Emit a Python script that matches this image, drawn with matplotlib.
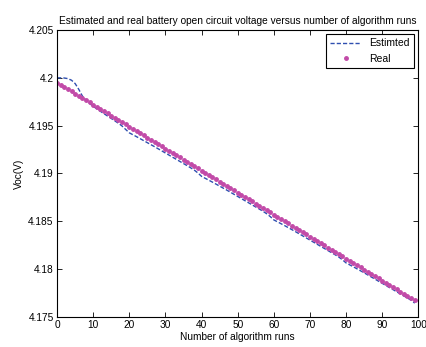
import numpy as np
import matplotlib.pyplot as plt

plt.rcParams['font.family'] = ['Liberation Sans', 'DejaVu Sans']
plt.rcParams['font.size'] = 7.3

runs = list(range(100))

real_voc = [
    4.19950, 4.19927, 4.19904, 4.19881, 4.19858, 4.19835, 4.19812, 4.19789, 4.19766, 4.19743,
    4.19720, 4.19697, 4.19674, 4.19651, 4.19628, 4.19605, 4.19582, 4.19559, 4.19536, 4.19513,
    4.19490, 4.19467, 4.19444, 4.19421, 4.19398, 4.19375, 4.19352, 4.19329, 4.19306, 4.19283,
    4.19260, 4.19237, 4.19214, 4.19191, 4.19168, 4.19145, 4.19122, 4.19099, 4.19076, 4.19053,
    4.19030, 4.19007, 4.18984, 4.18961, 4.18938, 4.18915, 4.18892, 4.18869, 4.18846, 4.18823,
    4.18800, 4.18777, 4.18754, 4.18731, 4.18708, 4.18685, 4.18662, 4.18639, 4.18616, 4.18593,
    4.18570, 4.18547, 4.18524, 4.18501, 4.18478, 4.18455, 4.18432, 4.18409, 4.18386, 4.18363,
    4.18340, 4.18317, 4.18294, 4.18271, 4.18248, 4.18225, 4.18202, 4.18179, 4.18156, 4.18133,
    4.18110, 4.18087, 4.18064, 4.18041, 4.18018, 4.17995, 4.17972, 4.17949, 4.17926, 4.17903,
    4.17880, 4.17857, 4.17834, 4.17811, 4.17788, 4.17765, 4.17742, 4.17719, 4.17696, 4.17673,
]

est_voc = [
    4.20000, 4.20000, 4.19998, 4.19992, 4.19975, 4.19940, 4.19880, 4.19810, 4.19765, 4.19732,
    4.19702, 4.19676, 4.19650, 4.19625, 4.19600, 4.19575, 4.19550, 4.19525, 4.19496, 4.19460,
    4.19425, 4.19405, 4.19385, 4.19364, 4.19343, 4.19322, 4.19301, 4.19280, 4.19258, 4.19236,
    4.19214, 4.19192, 4.19170, 4.19148, 4.19126, 4.19104, 4.19082, 4.19059, 4.19035, 4.19005,
    4.18970, 4.18950, 4.18930, 4.18910, 4.18889, 4.18868, 4.18847, 4.18826, 4.18804, 4.18782,
    4.18760, 4.18738, 4.18716, 4.18694, 4.18672, 4.18650, 4.18628, 4.18605, 4.18580, 4.18550,
    4.18515, 4.18495, 4.18475, 4.18455, 4.18434, 4.18413, 4.18392, 4.18370, 4.18348, 4.18326,
    4.18304, 4.18282, 4.18260, 4.18238, 4.18216, 4.18194, 4.18172, 4.18150, 4.18126, 4.18098,
    4.18065, 4.18045, 4.18025, 4.18004, 4.17983, 4.17962, 4.17940, 4.17918, 4.17896, 4.17874,
    4.17852, 4.17830, 4.17808, 4.17786, 4.17764, 4.17742, 4.17720, 4.17698, 4.17676, 4.17645,
]

xticks = [0, 10, 20, 30, 40, 50, 60, 70, 80, 90, 100]
yticks = [4.175, 4.18, 4.185, 4.19, 4.195, 4.2, 4.205]
ytick_labels = ["4.175", "4.18", "4.185", "4.19", "4.195", "4.2", "4.205"]

fig = plt.figure(figsize=(4.26, 3.47), dpi=100)
ax = fig.add_axes([0.134, 0.0865, 0.848, 0.827])

ax.plot(runs, est_voc, "--", color="#2f4fb0", lw=1.0, dashes=(3, 1.5), label="Estimted")
ax.plot(runs, real_voc, "o", color="#c24aa8", ms=2.5, mec="#c24aa8", label="Real")

ax.set_xlim(0, 100)
ax.set_ylim(4.175, 4.205)
ax.set_xticks(xticks)
ax.set_yticks(yticks)
ax.set_yticklabels(ytick_labels)
ax.tick_params(direction="in", top=True, right=True, length=3.5, width=0.6, pad=2.5)
for s in ax.spines.values():
    s.set_linewidth(0.8)

ax.set_title("Estimated and real battery open circuit voltage versus number of algorithm runs",
             fontsize=7.3, pad=4)
ax.set_xlabel("Number of algorithm runs", labelpad=1)
ax.set_ylabel("Voc(V)", labelpad=3)

leg = ax.legend(loc="upper right", fancybox=False, edgecolor="black", framealpha=1,
                borderaxespad=0.4, handlelength=3, fontsize=7.5)
leg.get_frame().set_linewidth(0.8)

fig.savefig("out.png", dpi=100)
